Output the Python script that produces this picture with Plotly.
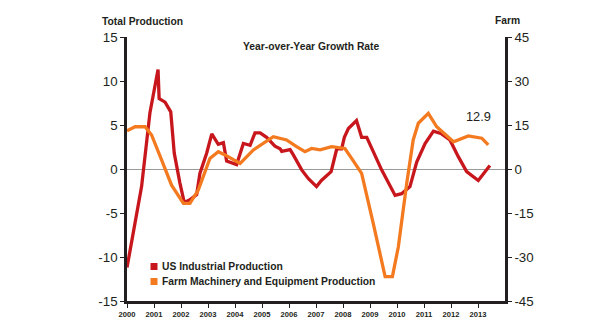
import plotly.graph_objects as go

# US industrial production, year-over-year growth (%), left axis
ip_x = [2000.0, 2000.54, 2000.85, 2001.15, 2001.19, 2001.41, 2001.62, 2001.75, 2001.96,
        2002.12, 2002.33, 2002.58, 2002.7, 2002.95, 2003.14, 2003.38, 2003.57, 2003.69,
        2004.06, 2004.31, 2004.56, 2004.74, 2004.93, 2005.17, 2005.48, 2005.67, 2005.73,
        2006.04, 2006.16, 2006.47, 2006.72, 2007.02, 2007.2, 2007.56, 2007.77, 2007.95,
        2008.05, 2008.2, 2008.5, 2008.69, 2008.88, 2009.19, 2009.43, 2009.93, 2010.17,
        2010.48, 2010.73, 2011.04, 2011.35, 2011.65, 2011.96, 2012.27, 2012.58, 2013.01,
        2013.44]
ip_y = [-11.2, -2.0, 6.4, 11.3, 8.0, 7.6, 6.5, 1.8, -1.6,
        -3.8, -3.5, -2.9, -0.5, 1.8, 4.0, 2.8, 3.0, 0.9,
        0.5, 2.9, 2.7, 4.1, 4.1, 3.6, 2.6, 2.3, 2.0,
        2.2, 1.6, -0.1, -1.1, -2.0, -1.3, -0.3, 2.3, 2.3,
        3.6, 4.6, 5.5, 3.6, 3.6, 1.4, -0.1, -3.0, -2.8,
        -2.0, 0.8, 2.9, 4.3, 4.0, 3.3, 1.4, -0.3, -1.3,
        0.4]

# Farm machinery and equipment production, year-over-year growth (%), right axis
farm_x = [2000.0, 2000.3, 2000.67, 2000.91, 2001.28, 2001.65, 2002.09, 2002.33, 2002.64,
          2003.07, 2003.38, 2003.63, 2004.19, 2004.68, 2005.42, 2005.91, 2006.28, 2006.59,
          2006.84, 2007.15, 2007.58, 2008.07, 2008.32, 2008.69, 2009.12, 2009.56, 2009.83,
          2010.05, 2010.36, 2010.6, 2010.79, 2011.16, 2011.47, 2011.72, 2012.09, 2012.64,
          2013.14, 2013.38]
farm_y = [13.0, 14.4, 14.4, 11.6, 3.1, -5.5, -11.7, -11.7, -7.2,
          3.6, 5.9, 4.8, 1.9, 6.5, 11.0, 9.9, 7.6, 5.9,
          7.0, 6.5, 7.6, 7.0, 3.6, -1.5, -18.5, -36.7, -36.7,
          -26.5, -4.9, 9.9, 15.6, 19.0, 14.4, 12.2, 9.3, 11.3,
          10.5, 8.2]

years = list(range(2000, 2014))
left_ticks = [-15, -10, -5, 0, 5, 10, 15]
right_ticks = [-45, -30, -15, 0, 15, 30, 45]

series_names = ["US Industrial Production", "Farm Machinery and Equipment Production"]
RED = "#c8161d"
ORANGE = "#f47a20"
INK = "#231f20"
FONT = "Liberation Sans, Arial, Helvetica, sans-serif"

fig = go.Figure()
fig.add_trace(go.Scatter(x=ip_x, y=ip_y, mode="lines", name=series_names[0],
                         line=dict(color=RED, width=3.3), showlegend=False, yaxis="y"))
fig.add_trace(go.Scatter(x=farm_x, y=farm_y, mode="lines", name=series_names[1],
                         line=dict(color=ORANGE, width=3.3), showlegend=False, yaxis="y2"))

fig.update_layout(
    width=595, height=335,
    margin=dict(l=127, r=90, t=37, b=34),
    paper_bgcolor="white", plot_bgcolor="white",
    font=dict(family=FONT, color=INK),
    xaxis=dict(range=[2000, 2014], tickvals=years, ticktext=[str(y) for y in years],
               showgrid=False, zeroline=False, showline=True, linewidth=2.5, linecolor=INK,
               ticks="outside", ticklen=4, tickwidth=1.2, tickcolor=INK,
               tickfont=dict(size=7.6, weight="bold", color=INK)),
    yaxis=dict(range=[-15, 15], tickvals=left_ticks, ticktext=[str(v) for v in left_ticks],
               showgrid=False,
               zeroline=True, zerolinecolor="#9a9a9a", zerolinewidth=1,
               showline=True, linewidth=2.5, linecolor=INK,
               ticks="outside", ticklen=4, tickwidth=1.2, tickcolor=INK,
               tickfont=dict(size=13.3, color=INK)),
    yaxis2=dict(range=[-45, 45], tickvals=right_ticks, ticktext=[str(v) for v in right_ticks],
                overlaying="y", side="right",
                showgrid=False, zeroline=False, showline=True, linewidth=2.5, linecolor=INK,
                ticks="outside", ticklen=4, tickwidth=1.2, tickcolor=INK,
                tickfont=dict(size=13.3, color=INK)),
)

anno_font = dict(family=FONT, color=INK, size=10.3, weight="bold")
fig.add_annotation(text="Total Production", xref="paper", yref="paper", x=0.0397, y=1.0606,
                   xanchor="center", yanchor="middle", showarrow=False, font=anno_font)
fig.add_annotation(text="Farm", xref="paper", yref="paper", x=1.0053, y=1.0625,
                   xanchor="center", yanchor="middle", showarrow=False, font=anno_font)
fig.add_annotation(text="Year-over-Year Growth Rate", xref="paper", yref="paper", x=0.4868, y=0.963,
                   xanchor="center", yanchor="middle", showarrow=False, font=anno_font)
fig.add_annotation(text="12.9", xref="x", yref="y", x=2013.0, y=6.0,
                   xanchor="center", yanchor="middle", showarrow=False,
                   font=dict(family=FONT, color=INK, size=12.8))

# Legend: colour squares with labels
for name, color, y0, y1, ty in [(series_names[0], RED, 0.1174, 0.1439, 0.1307),
                                (series_names[1], ORANGE, 0.0606, 0.0871, 0.0746)]:
    fig.add_shape(type="rect", xref="paper", yref="paper", x0=0.0622, x1=0.0807, y0=y0, y1=y1,
                  fillcolor=color, line=dict(width=0))
    fig.add_annotation(text=name, xref="paper", yref="paper", x=0.0870, y=ty,
                       xanchor="left", yanchor="middle", showarrow=False, font=anno_font)

fig.write_html("out.html")
